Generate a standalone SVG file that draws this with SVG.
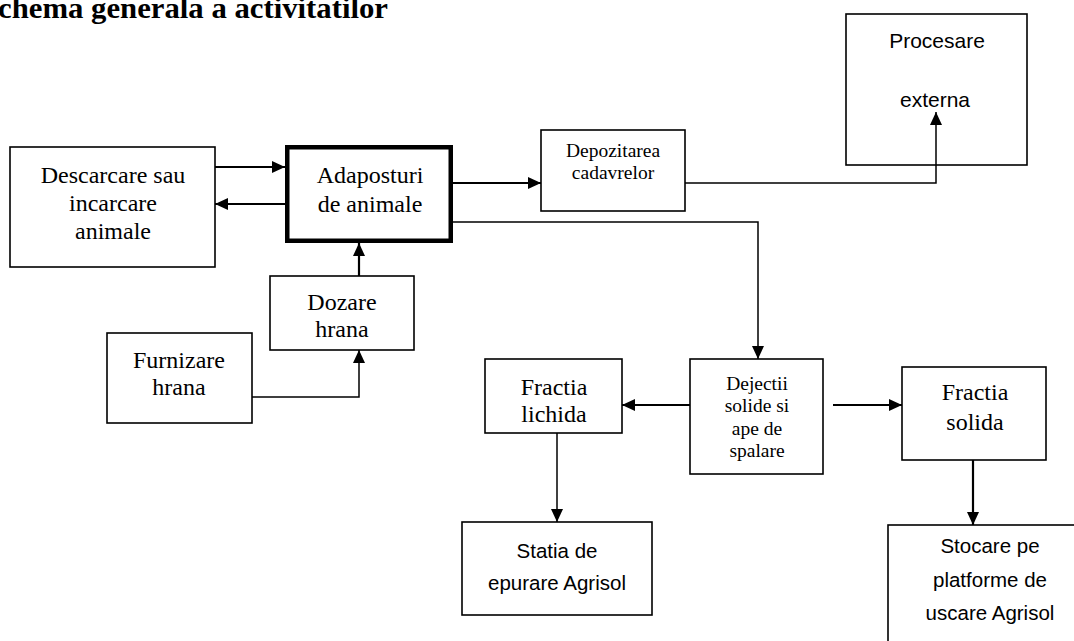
<svg xmlns="http://www.w3.org/2000/svg" width="1074" height="641" viewBox="0 0 1074 641">
<style>
  .box{fill:#fff;stroke:#000;stroke-width:1.6}
  .thick{fill:#fff;stroke:#000;stroke-width:4.5}
  .serif{font-family:"Liberation Serif","Times New Roman",serif;fill:#000;text-anchor:middle}
  .sans{font-family:"Liberation Sans",Arial,sans-serif;fill:#000;text-anchor:middle}
  .c{fill:none;stroke:#000}
  .w2{stroke-width:2.2}
  .w1{stroke-width:1.5}
</style>
<defs>
  <marker id="ah" viewBox="0 0 13 13" refX="13" refY="6.5" markerWidth="13" markerHeight="13" markerUnits="userSpaceOnUse" orient="auto">
    <path d="M0,0.5 L13,6.5 L0,12.5 z" fill="#000"/>
  </marker>
</defs>
<rect width="1074" height="641" fill="#fff"/>
<text x="-19" y="18" font-family="Liberation Serif, serif" font-weight="bold" font-size="29" textLength="407" lengthAdjust="spacingAndGlyphs" fill="#000">Schema generala a activitatilor</text>

<g id="descarcare">
  <rect class="box" x="10" y="147" width="205" height="120"/>
  <text class="serif" font-size="24" x="113" y="183">Descarcare sau</text>
  <text class="serif" font-size="24" x="113" y="211">incarcare</text>
  <text class="serif" font-size="24" x="113" y="239">animale</text>
</g>
<g id="adaposturi">
  <rect class="thick" x="287.25" y="147.25" width="163.5" height="93.5"/>
  <text class="serif" font-size="24" x="370" y="183">Adaposturi</text>
  <text class="serif" font-size="24" x="370" y="212">de animale</text>
</g>
<g id="dozare">
  <rect class="box" x="270" y="276" width="144" height="74"/>
  <text class="serif" font-size="24" x="342" y="310">Dozare</text>
  <text class="serif" font-size="24" x="342" y="337">hrana</text>
</g>
<g id="furnizare">
  <rect class="box" x="107" y="333" width="145" height="90"/>
  <text class="serif" font-size="24" x="179" y="368">Furnizare</text>
  <text class="serif" font-size="24" x="179" y="395">hrana</text>
</g>
<g id="depozitarea">
  <rect class="box" x="541" y="130" width="144" height="81"/>
  <text class="serif" font-size="19.5" x="613" y="157">Depozitarea</text>
  <text class="serif" font-size="19.5" x="613" y="179">cadavrelor</text>
</g>
<g id="procesare">
  <rect class="box" x="846" y="14" width="181" height="151"/>
  <text class="sans" font-size="21" x="937" y="48">Procesare</text>
  <text class="sans" font-size="21" x="935" y="107">externa</text>
</g>
<g id="dejectii">
  <rect class="box" x="690" y="359" width="133" height="115"/>
  <text class="serif" font-size="19.5" x="757" y="390">Dejectii</text>
  <text class="serif" font-size="19.5" x="757" y="412">solide si</text>
  <text class="serif" font-size="19.5" x="757" y="435">ape de</text>
  <text class="serif" font-size="19.5" x="757" y="457">spalare</text>
</g>
<g id="fractia-lichida">
  <rect class="box" x="485" y="359" width="137" height="74"/>
  <text class="serif" font-size="24" x="554" y="395">Fractia</text>
  <text class="serif" font-size="24" x="554" y="422">lichida</text>
</g>
<g id="fractia-solida">
  <rect class="box" x="902" y="367" width="144" height="93"/>
  <text class="serif" font-size="24" x="975" y="400">Fractia</text>
  <text class="serif" font-size="24" x="975" y="430">solida</text>
</g>
<g id="statia">
  <rect class="box" x="462" y="522" width="190" height="93"/>
  <text class="sans" font-size="20.5" x="557" y="558">Statia de</text>
  <text class="sans" font-size="20.5" x="557" y="590">epurare Agrisol</text>
</g>
<g id="stocare">
  <rect class="box" x="888" y="525" width="220" height="140"/>
  <text class="sans" font-size="20.5" x="990" y="553">Stocare pe</text>
  <text class="sans" font-size="20.5" x="990" y="587">platforme de</text>
  <text class="sans" font-size="20.5" x="990" y="620">uscare Agrisol</text>
</g>

<g id="connectors">
  <line class="c w2" x1="215" y1="167" x2="285" y2="167" marker-end="url(#ah)"/>
  <line class="c w2" x1="285" y1="204" x2="215" y2="204" marker-end="url(#ah)"/>
  <line class="c w2" x1="453" y1="183" x2="541" y2="183" marker-end="url(#ah)"/>
  <polyline class="c w1" points="685,183 936,183 936,112" marker-end="url(#ah)"/>
  <polyline class="c w1" points="453,222 758,222 758,359" marker-end="url(#ah)"/>
  <line class="c w2" x1="359" y1="276" x2="359" y2="243" marker-end="url(#ah)"/>
  <polyline class="c w1" points="252,397 359,397 359,350" marker-end="url(#ah)"/>
  <line class="c w2" x1="690" y1="405" x2="622" y2="405" marker-end="url(#ah)"/>
  <line class="c w2" x1="833" y1="405" x2="902" y2="405" marker-end="url(#ah)"/>
  <line class="c w1" x1="557" y1="433" x2="557" y2="522" marker-end="url(#ah)"/>
  <line class="c w2" x1="973" y1="460" x2="973" y2="525" marker-end="url(#ah)"/>
</g>
</svg>
